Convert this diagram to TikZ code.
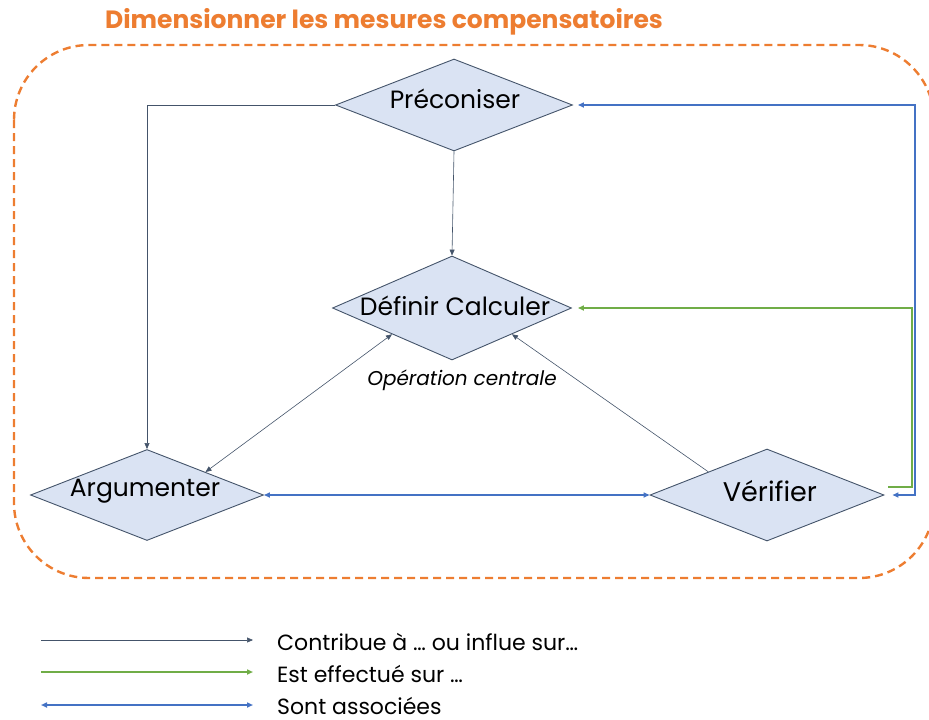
\documentclass[tikz,border=0pt]{standalone}
\usepackage{fontspec}
\setmainfont{Poppins}
\usetikzlibrary{shapes.geometric,arrows.meta}
\definecolor{dkline}{HTML}{44546A}
\definecolor{dfill}{HTML}{DAE3F3}
\definecolor{bline}{HTML}{4472C4}
\definecolor{gline}{HTML}{70AD47}
\definecolor{oline}{HTML}{ED7D31}
\tikzset{
  dia/.style={diamond,draw=dkline,fill=dfill,line width=0.9pt,inner sep=0pt},
  lbl/.style={inner sep=0pt,text=black},
  big/.style={lbl,font=\fontsize{25}{28}\selectfont},
  leg/.style={lbl,anchor=base west,font=\fontsize{22}{26}\selectfont},
  dk/.style={draw=dkline,line width=0.6pt,-{Triangle[length=6pt,width=5pt]}},
  dkboth/.style={draw=dkline,line width=0.6pt,{Triangle[length=6pt,width=5pt]}-{Triangle[length=6pt,width=5pt]}},
  bl/.style={draw=bline,line width=1.7pt,{Triangle[length=6pt,width=5pt]}-{Triangle[length=6pt,width=5pt]}},
  gr/.style={draw=gline,line width=1.7pt,-{Triangle[length=6pt,width=5pt]}},
}
\begin{document}
\begin{tikzpicture}[x=1pt,y=-1pt]
\useasboundingbox (0,0) rectangle (929,720);
% frame
\draw[oline,line width=2.4pt,dash pattern=on 8pt off 5pt,rounded corners=75pt] (14,45) rectangle (934,578);
\node[lbl,text=oline,font=\fontsize{25}{28}\selectfont\bfseries] (title) at (384,22) {Dimensionner les mesures compensatoires};
% diamonds
\node[dia,minimum width=237pt,minimum height=92pt] (P) at (454,105) {};
\node[dia,minimum width=239pt,minimum height=104pt] (D) at (452,308) {};
\node[dia,minimum width=233pt,minimum height=91pt] (A) at (147,495) {};
\node[dia,minimum width=234pt,minimum height=92pt] (V) at (767,495) {};
\node[big] (Pt) at (455,99) {Préconiser};
\node[big] (Dt) at (455,306) {Définir Calculer};
\node[big] (At) at (145,491) {Argumenter};
\node[big,font=\fontsize{27}{30}\selectfont] (Vt) at (770,491) {Vérifier};
\node[lbl,font=\fontsize{20}{24}\selectfont\itshape] (op) at (462,380) {Opération centrale};
% connectors
\draw[dk] (P.west) -| (A.north);
\draw[dk] (P.south) -- (D.north);
\draw[dkboth] (A.north east) -- (D.south west);
\draw[dk] (V.north west) -- (D.south east);
\draw[bl] (A.east) -- (V.west);
\coordinate (vb) at ([xshift=8pt]V.east);
\coordinate (pb) at ([xshift=5pt]P.east);
\draw[bl] (vb) -- (915,495) |- (pb);
\coordinate (vg) at (888,487);
\coordinate (dg) at ([xshift=6pt]D.east);
\draw[gr] (vg) -- (912,487) |- (dg);
% legend
\coordinate (l1a) at (41,640); \coordinate (l1b) at (253,640);
\coordinate (l2a) at (41,672); \coordinate (l2b) at (253,672);
\coordinate (l3a) at (41,705); \coordinate (l3b) at (253,705);
\draw[dk] (l1a) -- (l1b);
\draw[gr] (l2a) -- (l2b);
\draw[bl] (l3a) -- (l3b);
\node[leg] (t1) at (277,650) {Contribue à … ou influe sur…};
\node[leg] (t2) at (277,682) {Est effectué sur …};
\node[leg] (t3) at (277,714) {Sont associées};
\end{tikzpicture}
\end{document}
